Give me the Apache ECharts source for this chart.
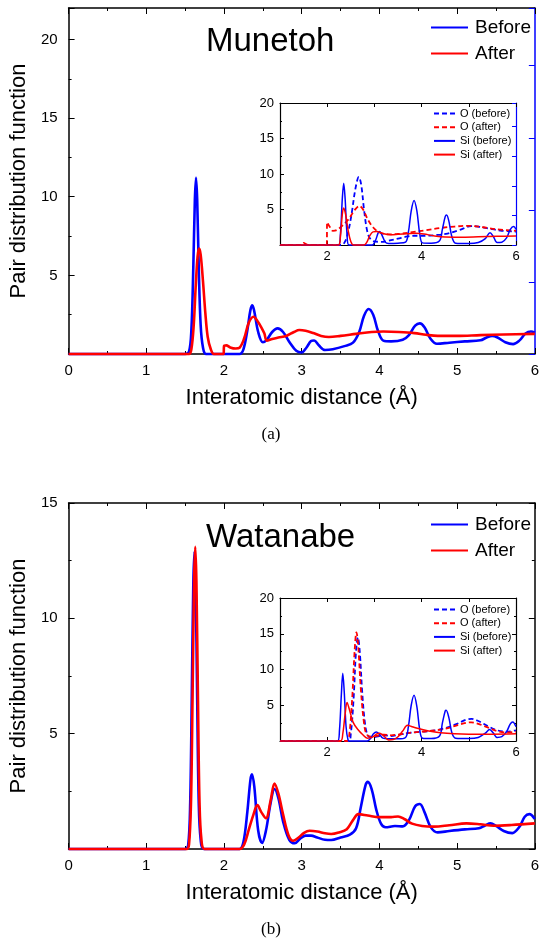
<!DOCTYPE html>
<html><head><meta charset="utf-8">
<script src="https://cdn.jsdelivr.net/npm/echarts@6/dist/echarts.min.js"></script>
<style>html,body{margin:0;padding:0;background:#fff}#c{width:542px;height:941px}</style>
</head><body><div id="c"></div><script>
// ---------- data (x in Å, g(r)) ----------
const mainA_before = [[0,0],[1.5,0],[1.55,0.15],[1.58,1.5],[1.605,5.5],[1.625,9.8],[1.64,11.2],[1.655,9.8],[1.675,5.5],[1.70,1.8],[1.73,0.4],[1.77,0],[2.2,0],[2.25,0.3],[2.3,1.5],[2.34,2.8],[2.365,3.1],[2.39,2.7],[2.44,1.4],[2.5,0.75],[2.55,0.9],[2.62,1.4],[2.69,1.63],[2.76,1.4],[2.85,0.7],[2.93,0.2],[3.0,0.1],[3.06,0.4],[3.12,0.82],[3.16,0.86],[3.22,0.55],[3.3,0.25],[3.4,0.3],[3.55,0.5],[3.66,0.72],[3.74,1.4],[3.8,2.4],[3.86,2.86],[3.92,2.5],[3.98,1.5],[4.05,0.85],[4.15,0.8],[4.3,0.9],[4.38,1.2],[4.46,1.8],[4.52,1.95],[4.58,1.7],[4.66,0.95],[4.74,0.65],[4.9,0.72],[5.1,0.8],[5.3,0.87],[5.38,1.05],[5.45,1.15],[5.52,1.05],[5.62,0.75],[5.72,0.63],[5.8,0.85],[5.88,1.3],[5.95,1.43],[6,1.35]];
const mainA_after = [[0,0],[1.55,0],[1.58,0.3],[1.61,1.8],[1.635,4.2],[1.66,6.2],[1.68,6.7],[1.70,6.3],[1.73,4.6],[1.76,2.6],[1.79,1.1],[1.83,0.3],[1.87,0],[1.995,0],[2.0,0.5],[2.03,0.55],[2.08,0.42],[2.15,0.35],[2.2,0.4],[2.26,1.0],[2.32,2.0],[2.38,2.37],[2.43,2.1],[2.48,1.7],[2.52,1.3],[2.55,0.85],[2.62,0.95],[2.7,1.05],[2.8,1.15],[2.9,1.4],[2.97,1.53],[3.05,1.48],[3.15,1.33],[3.25,1.15],[3.35,1.08],[3.5,1.15],[3.7,1.28],[3.9,1.4],[4.05,1.43],[4.25,1.4],[4.45,1.33],[4.6,1.22],[4.75,1.15],[5.0,1.15],[5.3,1.2],[5.6,1.24],[6,1.28]];
const mainB_before = [[0,0],[1.5,0],[1.54,0.2],[1.565,2],[1.585,6.5],[1.605,11.5],[1.62,12.9],[1.635,11.5],[1.655,6.5],[1.675,2],[1.70,0.4],[1.74,0],[2.2,0],[2.25,0.3],[2.3,1.6],[2.34,3.0],[2.36,3.24],[2.39,2.7],[2.44,0.8],[2.49,0.26],[2.54,0.8],[2.6,2.0],[2.65,2.6],[2.7,2.2],[2.76,1.2],[2.84,0.4],[2.91,0.25],[2.98,0.45],[3.05,0.58],[3.12,0.58],[3.2,0.5],[3.3,0.4],[3.38,0.39],[3.5,0.5],[3.62,0.62],[3.7,0.9],[3.76,1.8],[3.82,2.75],[3.85,2.91],[3.9,2.6],[3.96,1.7],[4.02,1.1],[4.08,0.94],[4.2,1.0],[4.3,0.98],[4.38,1.25],[4.46,1.85],[4.52,1.95],[4.58,1.6],[4.66,0.95],[4.75,0.72],[4.9,0.78],[5.1,0.85],[5.28,0.9],[5.36,1.02],[5.43,1.11],[5.5,1.0],[5.6,0.78],[5.71,0.69],[5.8,0.95],[5.87,1.4],[5.93,1.51],[6,1.3]];
const mainB_after = [[0,0],[1.52,0],[1.55,0.2],[1.575,2],[1.595,6.5],[1.615,11.6],[1.63,13.1],[1.645,11.6],[1.665,6.5],[1.685,2],[1.71,0.4],[1.75,0],[2.2,0],[2.26,0.2],[2.32,0.85],[2.38,1.5],[2.43,1.9],[2.48,1.6],[2.54,1.33],[2.6,2.1],[2.65,2.84],[2.7,2.4],[2.76,1.5],[2.83,0.6],[2.89,0.36],[2.96,0.5],[3.03,0.7],[3.1,0.79],[3.2,0.76],[3.3,0.68],[3.38,0.65],[3.48,0.72],[3.58,0.86],[3.66,1.25],[3.73,1.51],[3.85,1.45],[4.0,1.38],[4.15,1.38],[4.24,1.41],[4.32,1.3],[4.42,1.1],[4.55,1.0],[4.7,0.97],[4.9,1.03],[5.12,1.11],[5.3,1.07],[5.47,1.01],[5.7,1.04],[6,1.11]];

const insA_O_before = [[1,0],[2.3,0],[2.38,0.5],[2.45,2],[2.52,4.5],[2.6,8.0],[2.67,9.6],[2.72,8.5],[2.78,5],[2.84,2.2],[2.9,1.0],[3.0,0.5],[3.15,0.45],[3.3,0.6],[3.5,0.9],[3.7,1.2],[3.85,1.3],[4.05,1.3],[4.3,1.4],[4.55,1.6],[4.8,2.1],[5.05,2.65],[5.2,2.6],[5.45,2.3],[5.7,2.0],[6,1.9]];
const insA_O_after = [[1,0],[1.45,0],[1.5,0.3],[1.56,0.1],[1.6,0],[1.99,0],[2.0,3.2],[2.05,2.6],[2.12,2.0],[2.2,2.1],[2.3,2.6],[2.45,3.6],[2.58,4.9],[2.68,5.5],[2.76,5.0],[2.86,3.6],[2.97,2.5],[3.1,1.8],[3.3,1.5],[3.5,1.55],[3.8,1.8],[4.1,2.1],[4.4,2.4],[4.7,2.6],[5.0,2.7],[5.3,2.5],[5.6,2.2],[6,2.0]];
const insA_Si_before = [[1,0],[2.24,0],[2.28,1.5],[2.32,6.5],[2.35,8.7],[2.38,6.5],[2.42,1.5],[2.46,0],[2.95,0],[3.02,0.6],[3.08,1.7],[3.11,1.9],[3.16,1.4],[3.23,0.4],[3.3,0.2],[3.5,0.25],[3.66,0.4],[3.72,1.8],[3.78,4.8],[3.84,6.26],[3.9,4.8],[3.96,1.6],[4.02,0.3],[4.2,0.25],[4.38,0.6],[4.44,2.2],[4.5,4.0],[4.53,4.24],[4.58,3.3],[4.64,1.2],[4.72,0.25],[5.0,0.2],[5.2,0.35],[5.35,0.9],[5.45,1.74],[5.52,1.2],[5.6,0.35],[5.7,0.4],[5.8,1.0],[5.88,2.2],[5.95,2.6],[6,2.2]];
const insA_Si_after = [[1,0],[2.24,0],[2.28,1.2],[2.32,4.3],[2.35,5.2],[2.39,4.3],[2.44,2.2],[2.5,0.5],[2.56,0],[2.78,0],[2.84,0.4],[2.9,1.3],[2.97,1.85],[3.05,1.9],[3.15,1.7],[3.25,1.5],[3.35,1.45],[3.5,1.5],[3.7,1.58],[3.88,1.65],[4.05,1.55],[4.25,1.3],[4.5,1.12],[4.8,1.1],[5.2,1.15],[5.6,1.22],[6,1.27]];

const insB_O_before = [[1,0],[2.45,0],[2.5,1],[2.56,6],[2.61,12.5],[2.65,14.5],[2.69,12.5],[2.74,7],[2.8,2.5],[2.86,0.8],[2.95,0.5],[3.1,0.7],[3.2,0.8],[3.35,0.7],[3.5,0.85],[3.7,1.1],[3.9,1.25],[4.1,1.35],[4.3,1.5],[4.5,1.8],[4.75,2.4],[4.95,3.0],[5.06,3.1],[5.2,2.8],[5.4,2.1],[5.6,1.5],[5.8,1.3],[6,1.5]];
const insB_O_after = [[1,0],[2.42,0],[2.47,1],[2.53,6],[2.58,12.5],[2.62,15.2],[2.66,13],[2.71,7.5],[2.78,2.5],[2.84,0.9],[2.95,0.6],[3.1,0.8],[3.2,0.9],[3.35,0.8],[3.5,0.9],[3.7,1.1],[3.9,1.25],[4.1,1.35],[4.3,1.5],[4.5,1.7],[4.75,2.2],[4.95,2.55],[5.05,2.6],[5.2,2.4],[5.4,1.9],[5.6,1.4],[5.8,1.2],[6,1.3]];
const insB_Si_before = [[1,0],[2.22,0],[2.26,1.5],[2.3,6.5],[2.33,9.46],[2.36,7],[2.4,2],[2.44,0.2],[2.48,0],[2.85,0],[2.92,0.4],[2.98,1.0],[3.04,1.26],[3.1,1.0],[3.18,0.4],[3.3,0.3],[3.5,0.3],[3.66,0.5],[3.72,2],[3.78,5],[3.84,6.4],[3.9,4.8],[3.96,1.6],[4.02,0.4],[4.2,0.35],[4.38,0.7],[4.44,2.5],[4.5,4.2],[4.52,4.3],[4.58,3.2],[4.64,1.2],[4.72,0.4],[5.0,0.35],[5.2,0.5],[5.35,1.1],[5.44,1.6],[5.52,1.1],[5.6,0.5],[5.7,0.6],[5.8,1.3],[5.88,2.4],[5.93,2.67],[6,2.0]];
const insB_Si_after = [[1,0],[2.28,0],[2.33,1.0],[2.38,3.8],[2.42,5.4],[2.47,4.4],[2.55,2.6],[2.65,1.6],[2.75,0.9],[2.85,0.4],[2.95,0.5],[3.05,1.0],[3.11,1.1],[3.2,0.7],[3.3,0.15],[3.4,0.2],[3.5,0.6],[3.6,1.4],[3.7,2.2],[3.8,2.0],[3.95,1.7],[4.15,1.4],[4.4,1.15],[4.7,1.0],[5.0,0.95],[5.5,0.95],[6,1.0]];

const mainLegend = ['Before', 'After'];
const insetLegend = ['O (before)', 'O (after)', 'Si (before)', 'Si (after)'];
const panelTitles = ['Munetoh', 'Watanabe'];
const captions = ['(a)', '(b)'];
const xTitle = 'Interatomic distance (Å)';
const yTitle = 'Pair distribution function';

// ---------- styling ----------
const FONT = "'Liberation Sans', Arial, Helvetica, sans-serif";
const BLUE = '#0000ff', RED = '#ff0000', BLACK = '#000';

function xAxis(g, min, max, opt) {
  const top = opt.top;
  return {
    gridIndex: g, type: 'value', min: min, max: max, interval: 1,
    position: top ? 'top' : 'bottom',
    axisLine: {onZero: false, lineStyle: {color: BLACK, width: opt.lw}},
    axisTick: {inside: true, length: opt.tick, lineStyle: {color: BLACK, width: 1}},
    minorTick: {show: !!opt.minor, splitNumber: 2, length: opt.tick / 2, lineStyle: {color: BLACK, width: 1}},
    splitLine: {show: false},
    axisLabel: {show: !top, fontSize: opt.fs, color: BLACK, margin: opt.margin, fontFamily: FONT,
      formatter: opt.fmt || (v => String(v))},
    name: (!top && opt.name) ? opt.name : '',
    nameLocation: 'middle', nameGap: opt.nameGap || 0,
    nameTextStyle: {fontSize: 22, color: BLACK, fontFamily: FONT}
  };
}
function yAxis(g, min, max, interval, opt) {
  const right = opt.right;
  const col = opt.color || BLACK;
  return {
    gridIndex: g, type: 'value', min: min, max: max, interval: interval,
    position: right ? 'right' : 'left',
    axisLine: {onZero: false, lineStyle: {color: col, width: opt.lw}},
    axisTick: {inside: true, length: opt.tick, lineStyle: {color: col, width: 1}},
    minorTick: {show: !!opt.minor, splitNumber: 2, length: opt.tick / 2, lineStyle: {color: col, width: 1}},
    splitLine: {show: false},
    axisLabel: {show: !right, fontSize: opt.fs, color: BLACK, margin: opt.margin, fontFamily: FONT,
      formatter: v => (v > 0 && v % 5 === 0) ? String(v) : ''},
    name: (!right && opt.name) ? opt.name : '',
    nameLocation: 'middle', nameGap: opt.nameGap || 0,
    nameTextStyle: {fontSize: 22, color: BLACK, fontFamily: FONT}
  };
}

const grids = [
  {left: 64, top: 8, width: 474, height: 346},
  {left: 280, top: 103, width: 236, height: 142},
  {left: 64, top: 503, width: 474, height: 346},
  {left: 280, top: 598, width: 236, height: 143}
].map((g, i) => Object.assign({show: i % 2 === 1, backgroundColor: '#fff', borderWidth: 0, containLabel: false}, g));

const mainX = {lw: 1.5, tick: 6, fs: 15, margin: 9, minor: true};
const insX = {lw: 1.2, tick: 4, fs: 13, margin: 5, fmt: v => (v % 2 === 0 ? String(v) : '')};
const mainY = {lw: 1.5, tick: 6, fs: 15, margin: 11, minor: true};
const insY = {lw: 1.2, tick: 4, fs: 13, margin: 6, minor: true};

const xAxes = [
  xAxis(0, 0, 6, Object.assign({name: xTitle, nameGap: 33}, mainX)),
  xAxis(0, 0, 6, Object.assign({top: true}, mainX)),
  xAxis(1, 1, 6, insX),
  xAxis(1, 1, 6, Object.assign({top: true}, insX)),
  xAxis(2, 0, 6, Object.assign({name: xTitle, nameGap: 33}, mainX)),
  xAxis(2, 0, 6, Object.assign({top: true}, mainX)),
  xAxis(3, 1, 6, insX),
  xAxis(3, 1, 6, Object.assign({top: true}, insX))
];
const yAxes = [
  yAxis(0, 0, 22, 5, Object.assign({name: yTitle, nameGap: 34}, mainY)),
  yAxis(0, 0, 4.8, 1, Object.assign({right: true, color: BLUE}, mainY, {minor: false})),
  yAxis(1, 0, 20, 5, insY),
  yAxis(1, 0, 4.8, 1, Object.assign({right: true, color: BLUE}, insY, {minor: false})),
  yAxis(2, 0, 15, 5, Object.assign({name: yTitle, nameGap: 34}, mainY)),
  yAxis(2, 0, 15, 5, Object.assign({right: true}, mainY)),
  yAxis(3, 0, 20, 5, insY),
  yAxis(3, 0, 20, 5, Object.assign({right: true}, insY))
];

function line(name, data, xi, yi, color, width, dashed) {
  return {
    type: 'line', name: name, data: data, xAxisIndex: xi, yAxisIndex: yi,
    symbol: 'none', showSymbol: false, smooth: 0.35,
    clip: false, silent: true,
    lineStyle: {color: color, width: width, type: dashed ? [5, 3] : 'solid', join: 'round'},
    itemStyle: {color: color}
  };
}

const series = [
  line('Before', mainA_before, 0, 0, BLUE, 2.6),
  line('After', mainA_after, 0, 0, RED, 2.6),
  line('O (before)', insA_O_before, 2, 2, BLUE, 1.8, true),
  line('O (after)', insA_O_after, 2, 2, RED, 1.8, true),
  line('Si (before)', insA_Si_before, 2, 2, BLUE, 1.5),
  line('Si (after)', insA_Si_after, 2, 2, RED, 1.5),
  line('Before', mainB_before, 4, 4, BLUE, 2.6),
  line('After', mainB_after, 4, 4, RED, 2.6),
  line('O (before)', insB_O_before, 6, 6, BLUE, 1.8, true),
  line('O (after)', insB_O_after, 6, 6, RED, 1.8, true),
  line('Si (before)', insB_Si_before, 6, 6, BLUE, 1.5),
  line('Si (after)', insB_Si_after, 6, 6, RED, 1.5)
];

function mainLeg(top) {
  return {data: mainLegend, orient: 'vertical', left: 425, top: top, itemWidth: 37, itemHeight: 1,
    itemGap: 7, selectedMode: false, itemStyle: {opacity: 0, borderWidth: 0},
    textStyle: {fontSize: 19, color: BLACK, fontFamily: FONT, lineHeight: 19, padding: [0, 0, 0, 2]}};
}
function insLeg(top) {
  return {data: insetLegend, orient: 'vertical', left: 428, top: top, itemWidth: 21, itemHeight: 1,
    itemGap: 2.7, selectedMode: false, itemStyle: {opacity: 0, borderWidth: 0},
    textStyle: {fontSize: 11, color: BLACK, fontFamily: FONT, lineHeight: 11}};
}

const graphic = [
  {type: 'text', x: 206, y: 42, style: {text: panelTitles[0], fontSize: 33, fontFamily: FONT, fill: BLACK, textVerticalAlign: 'middle'}},
  {type: 'text', x: 206, y: 538, style: {text: panelTitles[1], fontSize: 33, fontFamily: FONT, fill: BLACK, textVerticalAlign: 'middle'}},
  {type: 'text', x: 271, y: 435, style: {text: captions[0], fontSize: 17, fontFamily: "'Liberation Serif', 'DejaVu Serif', serif", fill: BLACK, textAlign: 'center', textVerticalAlign: 'middle'}},
  {type: 'text', x: 271, y: 930, style: {text: captions[1], fontSize: 17, fontFamily: "'Liberation Serif', 'DejaVu Serif', serif", fill: BLACK, textAlign: 'center', textVerticalAlign: 'middle'}}
];

const chart = echarts.init(document.getElementById('c'), null, {renderer: 'canvas'});
chart.setOption({
  animation: false,
  backgroundColor: '#fff',
  grid: grids,
  xAxis: xAxes,
  yAxis: yAxes,
  legend: [mainLeg(13), insLeg(103), mainLeg(510), insLeg(599)],
  graphic: graphic,
  series: series
});
</script></body></html>
